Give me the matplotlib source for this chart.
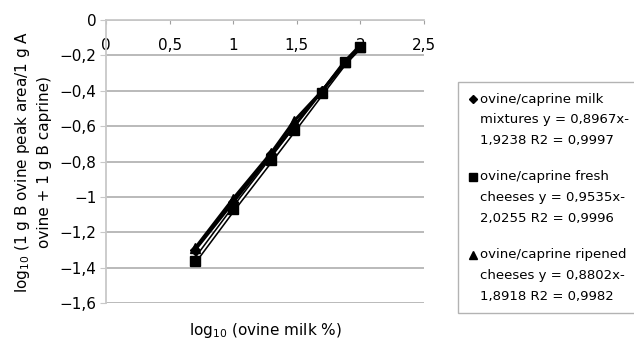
import matplotlib
matplotlib.use("Agg")
import matplotlib.pyplot as plt
from matplotlib.lines import Line2D
from matplotlib.legend_handler import HandlerLine2D
from matplotlib.ticker import FuncFormatter

plt.rcParams['font.family'] = ['DejaVu Sans']

# data
x_vals = [0.70, 1.00, 1.30, 1.48, 1.70, 1.88, 2.00]
mixtures = [-1.30, -1.03, -0.76, -0.60, -0.40, -0.24, -0.15]
fresh = [-1.36, -1.07, -0.79, -0.62, -0.41, -0.24, -0.15]
ripened = [-1.29, -1.01, -0.75, -0.57, -0.40, -0.24, -0.15]
labels = [
    "ovine/caprine milk\nmixtures y = 0,8967x-\n1,9238 R2 = 0,9997",
    "ovine/caprine fresh\ncheeses y = 0,9535x-\n2,0255 R2 = 0,9996",
    "ovine/caprine ripened\ncheeses y = 0,8802x-\n1,8918 R2 = 0,9982",
]
x_ticks = [0, 0.5, 1, 1.5, 2, 2.5]
y_ticks = [0, -0.2, -0.4, -0.6, -0.8, -1.0, -1.2, -1.4, -1.6]

fig = plt.figure(figsize=(6.34, 3.42), dpi=100)
ax = fig.add_axes([106/634, 1-303/342, (424-106)/634, (303-20)/342])

# lines
ax.plot(x_vals, fresh, color='black', lw=3.6, zorder=3, solid_capstyle='butt')
ax.plot(x_vals, fresh, color='white', lw=1.3, zorder=3.1, solid_capstyle='butt')
ax.plot(x_vals, mixtures, color='black', lw=2.2, zorder=3.2)
ax.plot(x_vals, ripened, color='black', lw=2.2, zorder=3.2)
# markers
ax.plot(x_vals, mixtures, ls='none', marker='D', ms=5, color='black', zorder=4)
ax.plot(x_vals, fresh, ls='none', marker='s', ms=6.5, color='black', zorder=4)
ax.plot(x_vals, ripened, ls='none', marker='^', ms=6.5, color='black', zorder=4)

ax.set_xlim(0, 2.5)
ax.set_ylim(-1.6, 0)
ax.set_xticks(x_ticks)
ax.set_yticks(y_ticks)
fmt = FuncFormatter(lambda v, p: ('%g' % v).replace('.', ',').replace('-', '\u2212'))
ax.xaxis.set_major_formatter(fmt)
ax.yaxis.set_major_formatter(fmt)

ax.grid(axis='y', color='#b4b4b4', lw=1.3)
ax.set_axisbelow(True)
for s in ['right', 'bottom']:
    ax.spines[s].set_visible(False)
ax.spines['top'].set_color('#c8c8c8')
ax.spines['top'].set_linewidth(1.3)
ax.spines['left'].set_color('#c8c8c8')
ax.spines['left'].set_linewidth(1.3)

ax.tick_params(axis='x', top=True, bottom=False, labeltop=True, labelbottom=False,
               direction='in', length=3, color='#a0a0a0', pad=-23.5, labelsize=11)
ax.tick_params(axis='y', direction='out', length=4, color='#c8c8c8', pad=3, labelsize=11)

ax.set_ylabel("log$_{10}$ (1 g B ovine peak area/1 g A\novine + 1 g B caprine)",
              fontsize=11, linespacing=1.45, labelpad=5)
fig.text((106+424)/2/634, 1-330/342, "log$_{10}$ (ovine milk %)", fontsize=11,
         ha='center', va='center')


class UpHandler(HandlerLine2D):
    def __init__(self, shift, **kw):
        super().__init__(**kw)
        self.shift = shift

    def create_artists(self, legend, orig_handle, xdescent, ydescent, width, height,
                       fontsize, trans):
        arts = super().create_artists(legend, orig_handle, xdescent, ydescent, width,
                                      height, fontsize, trans)
        for a in arts:
            yd = a.get_ydata()
            a.set_ydata([y + self.shift for y in yd])
        return arts


handles = [Line2D([], [], ls='none', marker='D', ms=4.5, color='black'),
           Line2D([], [], ls='none', marker='s', ms=6, color='black'),
           Line2D([], [], ls='none', marker='^', ms=6, color='black')]
hm = {h: UpHandler(15) for h in handles}
leg = fig.legend(handles, labels, loc='upper left', bbox_to_anchor=(458/634, 1-82/342),
                 borderaxespad=0, fontsize=9.5, handlelength=0.6, handletextpad=0.3,
                 labelspacing=1.75, borderpad=0.8, fancybox=False, frameon=True,
                 edgecolor='#a0a0a0', handler_map=hm, shadow=False)
for t in leg.get_texts():
    t.set_linespacing(1.78)
leg.get_frame().set_linewidth(1.0)

fig.savefig("out.png", dpi=100)
